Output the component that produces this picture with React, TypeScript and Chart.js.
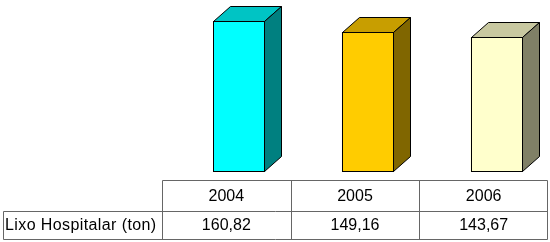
import React, { useEffect, useRef } from "react";
import { Chart, registerables } from "chart.js";

Chart.register(...registerables);

const categories = ["2004", "2005", "2006"];
const seriesLabel = "Lixo Hospitalar (ton)";
const values = [160.82, 149.16, 143.67];
const frontColors = ["#00FFFF", "#FFCC00", "#FFFFCC"];
const topColors = ["#00C4C4", "#C89E00", "#C8C8A0"];
const sideColors = ["#008080", "#806600", "#808066"];
const yMax = 180;

const OFFSET = 13;
const DX = 17;
const DY = 15;
const FONT = '16px "Liberation Sans", Arial, sans-serif';

const fmt = (v: number) => v.toFixed(2).replace(".", ",");

const bar3d = {
  id: "bar3d",
  beforeDatasetDraw(chart: any) {
    chart.ctx.save();
    chart.ctx.translate(OFFSET, 0);
  },
  afterDatasetDraw(chart: any, args: any) {
    const ctx = chart.ctx;
    const meta = chart.getDatasetMeta(args.index);
    ctx.lineWidth = 1;
    ctx.strokeStyle = "#000";
    ctx.lineJoin = "miter";
    meta.data.forEach((bar: any, i: number) => {
      const { x, y, base, width } = bar.getProps(["x", "y", "base", "width"], true);
      const l = Math.round(x - width / 2) + 0.5;
      const r = Math.round(x + width / 2) - 0.5;
      const t = Math.round(y) + 0.5;
      const b = Math.round(base) - 0.5;
      ctx.beginPath();
      ctx.moveTo(l, t);
      ctx.lineTo(l + DX, t - DY);
      ctx.lineTo(r + DX, t - DY);
      ctx.lineTo(r, t);
      ctx.closePath();
      ctx.fillStyle = topColors[i];
      ctx.fill();
      ctx.stroke();
      ctx.beginPath();
      ctx.moveTo(r, t);
      ctx.lineTo(r + DX, t - DY);
      ctx.lineTo(r + DX, b - DY);
      ctx.lineTo(r, b);
      ctx.closePath();
      ctx.fillStyle = sideColors[i];
      ctx.fill();
      ctx.stroke();
      ctx.strokeRect(l, t, r - l, b - t);
    });
    ctx.restore();
  },
};

const tablePlugin = {
  id: "dataTable",
  afterDraw(chart: any) {
    const ctx = chart.ctx;
    const area = chart.chartArea;
    const n = categories.length;
    const colW = (area.right - area.left) / n;
    const y0 = 180.5;
    const y1 = 211.5;
    const y2 = 239.5;
    const labelLeft = 3.5;
    ctx.save();
    ctx.strokeStyle = "#666666";
    ctx.lineWidth = 1;
    ctx.beginPath();
    ctx.moveTo(Math.round(area.left) + 0.5, y0);
    ctx.lineTo(Math.round(area.right) - 0.5, y0);
    ctx.moveTo(labelLeft, y1);
    ctx.lineTo(Math.round(area.right) - 0.5, y1);
    ctx.moveTo(labelLeft, y2);
    ctx.lineTo(Math.round(area.right) - 0.5, y2);
    ctx.moveTo(labelLeft, y1);
    ctx.lineTo(labelLeft, y2);
    for (let i = 0; i <= n; i++) {
      let xx = Math.round(area.left + i * colW) + 0.5;
      if (i === n) xx = Math.round(area.right) - 0.5;
      ctx.moveTo(xx, y0);
      ctx.lineTo(xx, y2);
    }
    ctx.stroke();

    ctx.fillStyle = "#000";
    ctx.font = FONT;
    ctx.textBaseline = "middle";
    ctx.textAlign = "center";
    for (let i = 0; i < n; i++) {
      const cx = area.left + (i + 0.5) * colW;
      ctx.fillText(categories[i], cx, (y0 + y1) / 2 + 0.5);
      ctx.fillText(fmt(values[i]), cx, (y1 + y2) / 2 + 0.5);
    }
    ctx.textAlign = "left";
    (ctx as any).letterSpacing = "0.4px";
    ctx.fillText(seriesLabel, 5, (y1 + y2) / 2 + 0.5);
    (ctx as any).letterSpacing = "0px";
    ctx.restore();
  },
};

export default function App() {
  const ref = useRef<HTMLCanvasElement | null>(null);
  useEffect(() => {
    document.body.style.margin = "0";
    const canvas = ref.current;
    if (!canvas) return;
    const chart = new Chart(canvas, {
      type: "bar",
      data: {
        labels: categories,
        datasets: [
          {
            label: seriesLabel,
            data: values,
            backgroundColor: frontColors,
            borderWidth: 0,
            categoryPercentage: 1,
            barPercentage: 0.405,
            clip: false,
          } as any,
        ],
      },
      options: {
        responsive: true,
        maintainAspectRatio: false,
        animation: false,
        layout: { padding: { left: 162, right: 2, top: 3, bottom: 70 } },
        plugins: {
          legend: { display: false },
          tooltip: { enabled: false },
          title: { display: false },
        },
        scales: {
          x: { display: false, grid: { display: false } },
          y: { display: false, min: 0, max: yMax, grid: { display: false } },
        },
      },
      plugins: [bar3d, tablePlugin],
    });
    return () => chart.destroy();
  }, []);
  return (
    <div style={{ width: 550, height: 242, position: "relative", background: "#fff" }}>
      <canvas ref={ref} />
    </div>
  );
}
